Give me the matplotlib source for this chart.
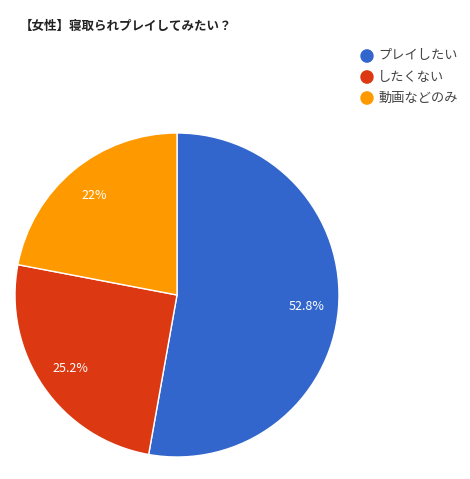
import numpy as np
import matplotlib.pyplot as plt

plt.rcParams['font.family'] = ['Noto Sans CJK JP', 'DejaVu Sans']

title = "【女性】寝取られプレイしてみたい？"
labels = ["プレイしたい", "したくない", "動画などのみ"]
values = [52.8, 25.2, 22.0]
pct_text = ["52.8%", "25.2%", "22%"]
colors = ["#3366cc", "#dc3912", "#ff9900"]

W, H = 470, 479
fig = plt.figure(figsize=(W / 100, H / 100), dpi=100)

# pie centre (177, 295), radius 162 px
cx, cy, r = 177, 295, 162
ax = fig.add_axes([(cx - r) / W, 1 - (cy + r) / H, 2 * r / W, 2 * r / H])
ax.pie(values, colors=colors, startangle=90, counterclock=False,
       wedgeprops=dict(edgecolor="white", linewidth=1))
ax.set_xlim(-1, 1)
ax.set_ylim(-1, 1)
ax.set_aspect("equal")

ang = 90.0
for v, t in zip(values, pct_text):
    mid = np.deg2rad(ang - v * 3.6 / 2)
    ax.text(0.8 * np.cos(mid), 0.8 * np.sin(mid), t,
            ha="center", va="center", color="white", fontsize=9)
    ang -= v * 3.6

fig.text(20 / W, 1 - 26 / H, title, fontsize=9, fontweight="bold",
         ha="left", va="center", color="#222222")

for i, (lab, c) in enumerate(zip(labels, colors)):
    y = 56 + 21 * i
    fig.patches.append(plt.Circle((367 / W, 1 - y / H), 6 / W,
                                  transform=fig.transFigure, color=c))
    fig.text(378 / W, 1 - y / H, lab, fontsize=9.5, ha="left", va="center",
             color="#444444")

fig.savefig("out.png", dpi=100, facecolor="white")
